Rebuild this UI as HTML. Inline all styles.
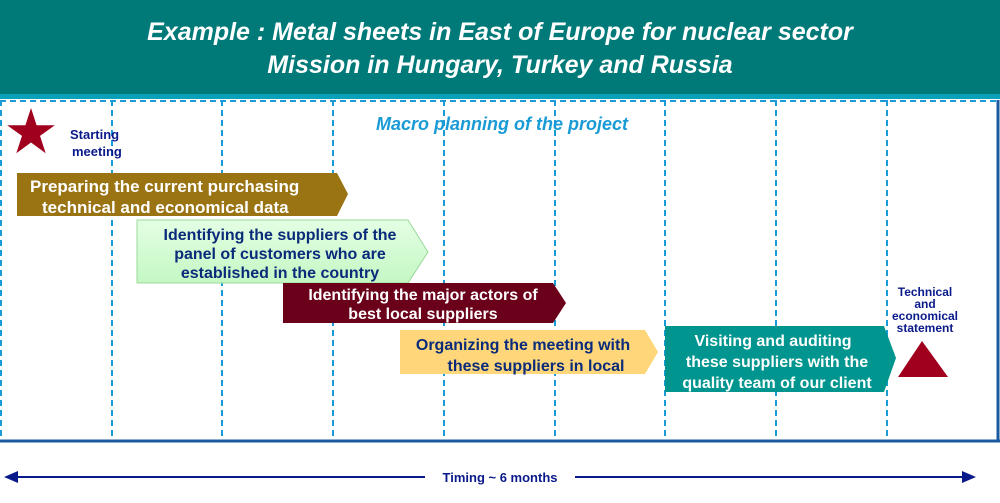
<!DOCTYPE html>
<html><head><style>
html,body{margin:0;padding:0;background:#fff;}
svg{display:block;font-family:"Liberation Sans",Arial,sans-serif;}
</style></head><body>
<svg width="1000" height="503" viewBox="0 0 1000 503" xmlns="http://www.w3.org/2000/svg">
<defs><linearGradient id="g" x1="0" y1="0" x2="0" y2="1"><stop offset="0" stop-color="#e4ffe4"/><stop offset="1" stop-color="#c4f7c4"/></linearGradient></defs>
<rect x="0" y="0" width="1000" height="98" fill="#007a78"/>
<rect x="0" y="94" width="1000" height="5" fill="#0aa0b8"/>
<text x="500" y="40" fill="#fff" font-size="25" font-weight="bold" font-style="italic" text-anchor="middle">Example : Metal sheets in East of Europe for nuclear sector</text>
<text x="500" y="73" fill="#fff" font-size="25" font-weight="bold" font-style="italic" text-anchor="middle">Mission in Hungary, Turkey and Russia</text>
<g stroke="#1a9bd6" stroke-width="2" stroke-dasharray="6,4">
<line x1="1" y1="100" x2="1" y2="440"/>
<line x1="112" y1="100" x2="112" y2="440"/>
<line x1="222" y1="100" x2="222" y2="440"/>
<line x1="333" y1="100" x2="333" y2="440"/>
<line x1="444" y1="100" x2="444" y2="440"/>
<line x1="555" y1="100" x2="555" y2="440"/>
<line x1="665" y1="100" x2="665" y2="440"/>
<line x1="776" y1="100" x2="776" y2="440"/>
<line x1="887" y1="100" x2="887" y2="440"/>
<line x1="0" y1="101" x2="1000" y2="101"/>
</g>
<line x1="998" y1="100" x2="998" y2="442" stroke="#1a5aa0" stroke-width="3"/>
<line x1="0" y1="441" x2="1000" y2="441" stroke="#1a5aa0" stroke-width="3"/>
<text x="502" y="130" fill="#1a9bd6" font-size="18" font-weight="bold" font-style="italic" text-anchor="middle">Macro planning of the project</text>
<polygon points="31,108 36.6,125.3 54.8,125.3 40,135.9 45.7,153.2 31,142.5 16.3,153.2 22,135.9 7.2,125.3 25.4,125.3" fill="#a0001e"/>
<text x="70" y="139" fill="#0a1a8a" font-size="13" font-weight="bold">Starting</text>
<text x="72" y="156" fill="#0a1a8a" font-size="13" font-weight="bold">meeting</text>
<polygon points="17,173 337,173 348,194 337,216 17,216" fill="#9a7412"/>
<text fill="#fff" font-size="17" font-weight="bold"><tspan x="30" y="192">Preparing the current purchasing</tspan><tspan x="42" y="213">technical and economical data</tspan></text>
<polygon points="137,220 408,220 428,252 408,283 137,283" fill="url(#g)" stroke="#9ad89a"/>
<text fill="#0a2a7a" font-size="16" font-weight="bold" text-anchor="middle"><tspan x="280" y="240">Identifying the suppliers of the</tspan><tspan x="280" y="259">panel of customers who are</tspan><tspan x="280" y="278">established in the country</tspan></text>
<polygon points="283,283 553,283 566,303 553,323 283,323" fill="#6a0019"/>
<text fill="#fff" font-size="16" font-weight="bold" text-anchor="middle"><tspan x="423" y="300">Identifying the major actors of</tspan><tspan x="423" y="319">best local suppliers</tspan></text>
<polygon points="400,330 645,330 658,352 645,374 400,374" fill="#ffd77a"/>
<text fill="#0a2a7a" font-size="16" font-weight="bold" text-anchor="middle"><tspan x="523" y="350">Organizing the meeting with</tspan><tspan x="536" y="371">these suppliers in local</tspan></text>
<polygon points="665,326 884,326 896,358 884,392 665,392" fill="#00968f"/>
<text fill="#fff" font-size="16" font-weight="bold" text-anchor="middle"><tspan x="773" y="346">Visiting and auditing</tspan><tspan x="777" y="367">these suppliers with the</tspan><tspan x="777" y="388">quality team of our client</tspan></text>
<text fill="#0a1a8a" font-size="12" font-weight="bold" text-anchor="middle"><tspan x="925" y="296">Technical</tspan><tspan x="925" y="308">and</tspan><tspan x="925" y="320">economical</tspan><tspan x="925" y="332">statement</tspan></text>
<polygon points="922,341 948,377 898,377" fill="#a0001e"/>
<line x1="8" y1="477" x2="965" y2="477" stroke="#0a1a8a" stroke-width="2"/>
<polygon points="4,477 18,471 18,483" fill="#0a1a8a"/>
<polygon points="976,477 962,471 962,483" fill="#0a1a8a"/>
<rect x="425" y="468" width="150" height="18" fill="#fff"/>
<text x="500" y="482" fill="#0a1a8a" font-size="13" font-weight="bold" text-anchor="middle">Timing  ~ 6 months</text>
</svg>
</body></html>
